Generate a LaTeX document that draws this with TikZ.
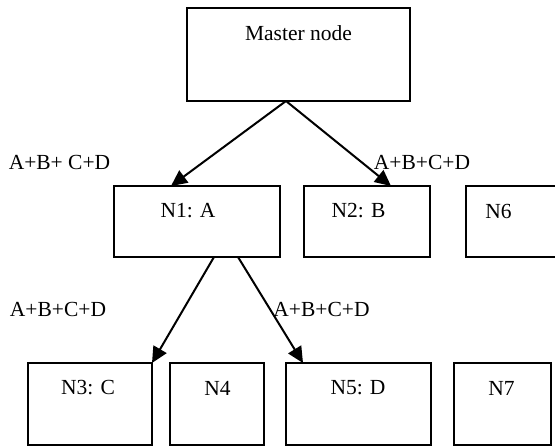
\documentclass[tikz,border=0pt]{standalone}
\usepackage{fontspec}
\setmainfont{Liberation Serif}
\usetikzlibrary{arrows.meta}
\begin{document}
\begin{tikzpicture}[x=1pt,y=-1pt,
  box/.style={draw=black,line width=2pt,rectangle,inner sep=0pt,outer sep=0pt},
  txt/.style={inner sep=0pt,outer sep=0pt,font=\fontsize{21.5}{25}\selectfont},
  arr/.style={line width=2pt,-{Triangle[length=16pt,width=15pt]}}]
\useasboundingbox (0,0) rectangle (555,447);
% boxes
\node[box,minimum width=223pt,minimum height=93pt] (master) at (298.5,54.5) {};
\node[box,minimum width=166pt,minimum height=71pt] (n1) at (197,221.5) {};
\node[box,minimum width=126pt,minimum height=71pt] (n2) at (367,221.5) {};
\node[box,minimum width=120pt,minimum height=71pt] (n6) at (526,221.5) {};
\node[box,minimum width=124pt,minimum height=82pt] (n3) at (90,404) {};
\node[box,minimum width=94pt,minimum height=82pt] (n4) at (217,404) {};
\node[box,minimum width=145pt,minimum height=82pt] (n5) at (358.5,404) {};
\node[box,minimum width=97pt,minimum height=82pt] (n7) at (502.5,404) {};
% texts
\node[txt] (tmaster) at (298.5,33) {Master node};
\node[txt] (tn1) at (188,211) {N1: A};
\node[txt] (tn2) at (358.5,211) {N2: B};
\node[txt] (tn6) at (498.5,211) {N6};
\node[txt] (tn3) at (88,388) {N3: C};
\node[txt] (tn4) at (217.5,388) {N4};
\node[txt] (tn5) at (358,388) {N5: D};
\node[txt] (tn7) at (501.5,388) {N7};
% labels
\node[txt] (l1) at (59.5,162) {A+B+ C+D};
\node[txt] (l2) at (422,162) {A+B+C+D};
\node[txt] (l3) at (58,309) {A+B+C+D};
\node[txt] (l4) at (321.5,309) {A+B+C+D};
% arrows
\draw[arr] ([xshift=-12.5pt]master.south) -- ([xshift=-26pt]n1.north);
\draw[arr] ([xshift=-12.5pt]master.south) -- ([xshift=24pt]n2.north);
\draw[arr] ([xshift=17pt]n1.south) -- (n3.north east);
\draw[arr] ([xshift=41pt]n1.south) -- ([xshift=-55.5pt]n5.north);
\end{tikzpicture}
\end{document}
